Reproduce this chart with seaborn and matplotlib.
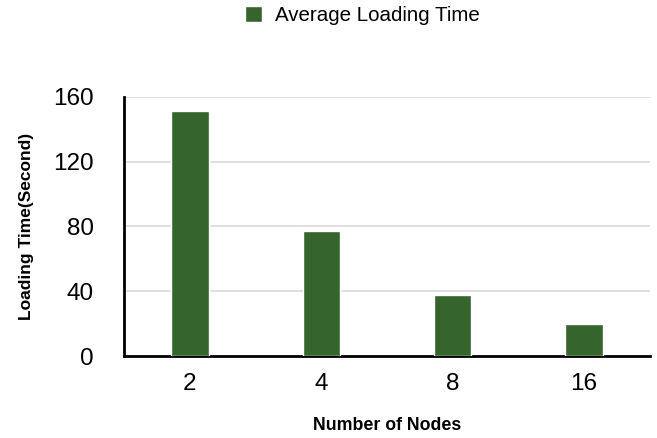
import pandas as pd
import matplotlib.pyplot as plt
import seaborn as sns
from matplotlib.patches import Patch

nodes = ["2", "4", "8", "16"]
loading_time = [151, 77, 38, 20]

df = pd.DataFrame({"nodes": nodes, "time": loading_time})

sns.set_style("white")
plt.rcParams["font.family"] = ["Liberation Sans", "DejaVu Sans"]

bar_color = "#36642d"

fig = plt.figure(figsize=(6.57, 4.38), dpi=100)
ax = fig.add_axes([0.189, 0.187, 0.8, 0.592])
sns.barplot(data=df, x="nodes", y="time", color=bar_color, width=0.285,
            saturation=1, ax=ax, zorder=3)

ax.set_ylim(0, 160)
ax.set_yticks([0, 40, 80, 120, 160])
ax.yaxis.grid(True, color="#d9d9d9", linewidth=1.2, zorder=0)
ax.set_axisbelow(True)
for s in ["top", "right"]:
    ax.spines[s].set_visible(False)
for s in ["left", "bottom"]:
    ax.spines[s].set_color("black")
    ax.spines[s].set_linewidth(2)
ax.tick_params(axis="both", length=0, labelsize=17.5, labelcolor="black")
ax.tick_params(axis="y", pad=22)
ax.tick_params(axis="x", pad=12)
ax.set_xlabel("Number of Nodes", fontsize=12.8, fontweight="bold",
              color="black", labelpad=16)
ax.set_ylabel("Loading Time(Second)", fontsize=12.5, fontweight="bold",
              color="black", labelpad=14)

handles = [Patch(facecolor=bar_color, label="Average Loading Time")]
fig.legend(handles=handles, loc="upper center", bbox_to_anchor=(0.552, 1.028),
           frameon=False, fontsize=14.8, handlelength=0.8, handleheight=0.8,
           handletextpad=0.65, labelcolor="black")

fig.savefig("out.png", dpi=100)
